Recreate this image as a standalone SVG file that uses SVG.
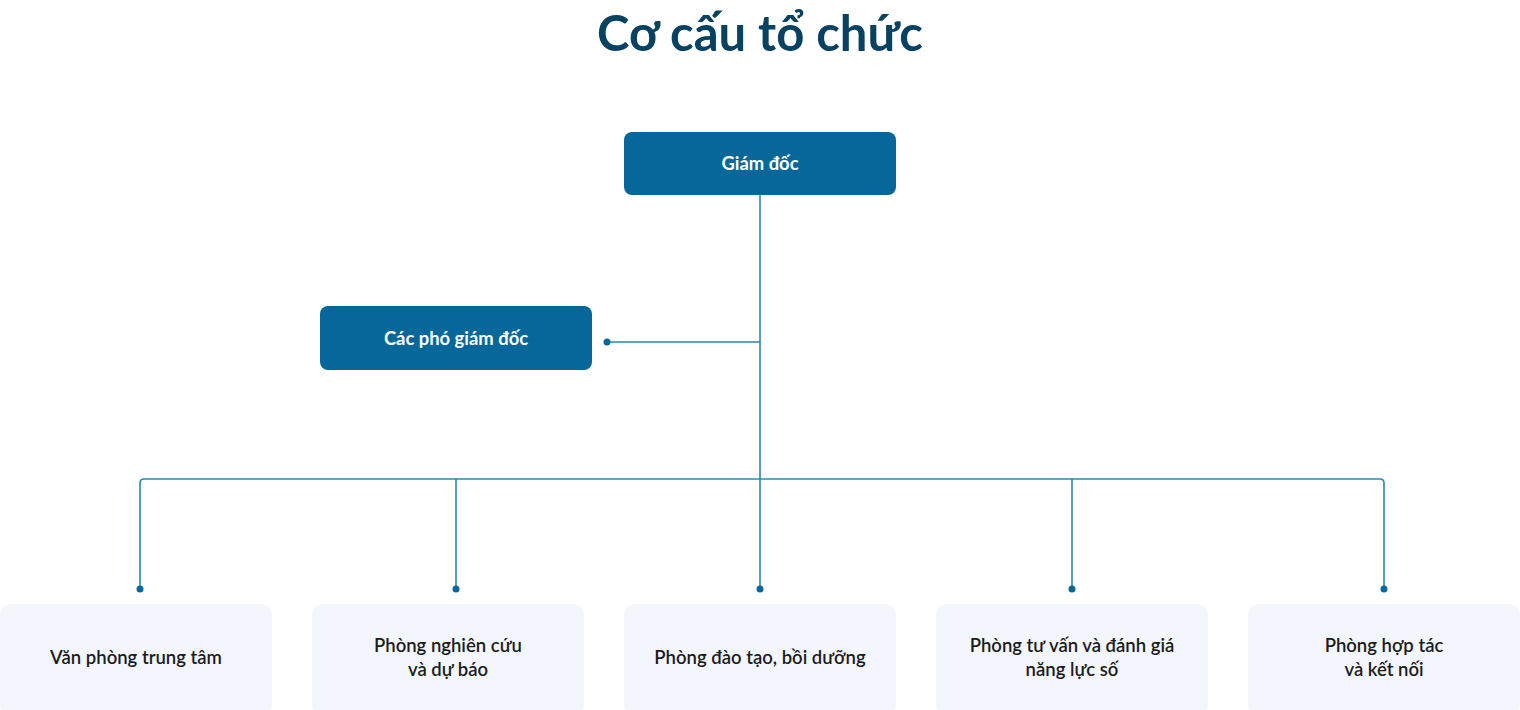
<svg xmlns="http://www.w3.org/2000/svg" width="1520" height="710" viewBox="0 0 1520 710">
<style>
.title{font-family:Lato,"Noto Sans",sans-serif;font-weight:700;font-size:49px;fill:#084263}
.dark rect{fill:#05679a}
.dark text{font-family:Lato,"Noto Sans",sans-serif;font-weight:700;font-size:18.4px;fill:#ffffff}
.light rect{fill:#f3f6fd}
.light text{font-family:Lato,"Noto Sans",sans-serif;font-weight:600;font-size:18.5px;fill:#1c1c1c}
.conn path{fill:none;stroke:#2f86b1;stroke-width:1.6}
.conn circle{fill:#05679a}
</style>
<rect width="1520" height="710" fill="#ffffff"/>
<text class="title" x="760" y="51" text-anchor="middle">Cơ cấu tổ chức</text>
<g class="conn" id="connectors">
<path d="M760 195 V479"/>
<path d="M607 342 H760"/>
<path d="M140 589 V483 Q140 479 144 479 H1380 Q1384 479 1384 483 V589"/>
<path d="M456 479 V589"/>
<path d="M760 479 V589"/>
<path d="M1072 479 V589"/>
<circle cx="607" cy="342" r="3.5"/>
<circle cx="140" cy="589" r="3.5"/>
<circle cx="456" cy="589" r="3.5"/>
<circle cx="760" cy="589" r="3.5"/>
<circle cx="1072" cy="589" r="3.5"/>
<circle cx="1384" cy="589" r="3.5"/>
</g>
<g id="giam-doc" class="dark"><rect x="624" y="132" width="272" height="63" rx="8"/><text x="760" y="170" text-anchor="middle">Giám đốc</text></g>
<g id="pho-giam-doc" class="dark"><rect x="320" y="306" width="272" height="64" rx="8"/><text x="456" y="345" text-anchor="middle">Các phó giám đốc</text></g>
<g id="van-phong" class="light"><rect x="0" y="604" width="272" height="112" rx="12"/><text x="136" y="664" text-anchor="middle">Văn phòng trung tâm</text></g>
<g id="nghien-cuu" class="light"><rect x="312" y="604" width="272" height="112" rx="12"/><text x="448" y="652" text-anchor="middle">Phòng nghiên cứu</text><text x="448" y="676" text-anchor="middle">và dự báo</text></g>
<g id="dao-tao" class="light"><rect x="624" y="604" width="272" height="112" rx="12"/><text x="760" y="664" text-anchor="middle">Phòng đào tạo, bồi dưỡng</text></g>
<g id="tu-van" class="light"><rect x="936" y="604" width="272" height="112" rx="12"/><text x="1072" y="652" text-anchor="middle">Phòng tư vấn và đánh giá</text><text x="1072" y="676" text-anchor="middle">năng lực số</text></g>
<g id="hop-tac" class="light"><rect x="1248" y="604" width="272" height="112" rx="12"/><text x="1384" y="652" text-anchor="middle">Phòng hợp tác</text><text x="1384" y="676" text-anchor="middle">và kết nối</text></g>
</svg>
